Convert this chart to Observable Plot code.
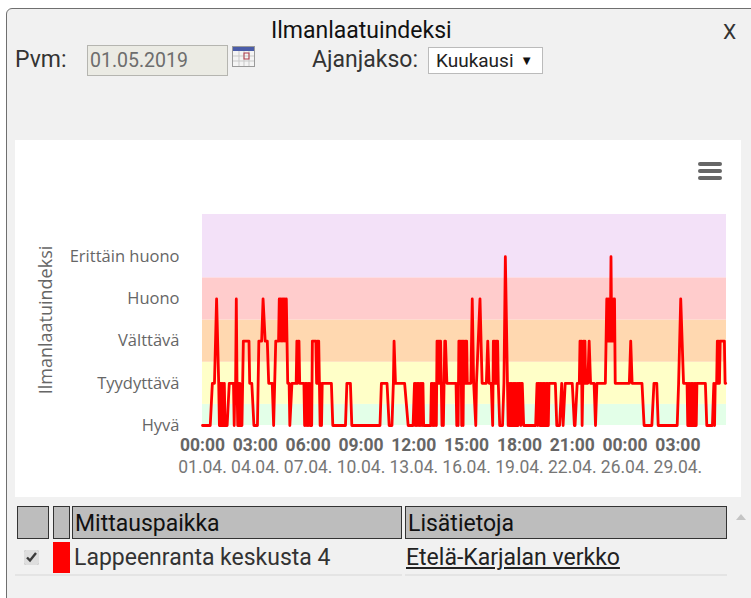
<!DOCTYPE html>
<html><head><meta charset="utf-8">
<script src="https://cdn.jsdelivr.net/npm/d3@7"></script>
<script src="https://cdn.jsdelivr.net/npm/@observablehq/plot@0.6"></script>
<style>
html,body{margin:0;padding:0;background:#fff;width:751px;height:598px;overflow:hidden}
#panel{position:absolute;left:6px;top:8px;width:760px;height:620px;background:#f1f1f1;border:1px solid #6f6f6f;border-radius:6px;box-sizing:border-box}
.t{position:absolute;font-family:Roboto,sans-serif;color:#222;white-space:nowrap;line-height:1}
.head{position:absolute;top:506px;height:33px;background:#bdbdbd;border:1px solid #333;box-sizing:border-box;font:23px/34px Roboto,sans-serif;color:#111;padding-left:2px}
#chart{position:absolute;left:15px;top:140px;width:726px;height:357px;background:#fff}
#chart svg{display:block}
#chart svg [aria-label="y-axis label"] text{font-size:18px}
.bar{position:absolute;left:698px;width:24px;height:4px;border-radius:2px;background:#666}
</style></head><body>
<div id="panel"></div>
<div class="t" style="left:271px;top:19px;font-size:23px;color:#111">Ilmanlaatuindeksi</div>
<div class="t" style="left:723px;top:22px;font-size:21px;color:#333">X</div>
<div class="t" style="left:15px;top:48px;font-size:23px;color:#333">Pvm:</div>
<div class="t" style="left:87px;top:45px;width:141px;height:31px;background:#ebebe4;border:1px solid #b5b5b0;box-sizing:border-box;font-size:19.5px;line-height:30px;padding-left:2px;color:#6d6d6d">01.05.2019</div>
<svg style="position:absolute;left:232px;top:46px" width="24" height="22">
<rect x=".5" y=".5" width="22" height="20" fill="#f4f4f4" stroke="#9a9a9a"/>
<rect x="1" y="1" width="21" height="4" fill="#4a5ca8"/>
<path d="M1 10H22M1 15H22M7 5V20M12 5V20M17 5V20" stroke="#c9c9c9"/>
<rect x="12" y="7" width="5" height="6" fill="none" stroke="#b03a4a"/></svg>
<div class="t" style="left:312px;top:48px;font-size:23px;color:#333">Ajanjakso:</div>
<div class="t" style="left:428px;top:47px;width:115px;height:27px;background:#fff;border:1px solid #bbb;box-sizing:border-box;font-size:19px;line-height:26px;padding-left:7px;color:#222">Kuukausi <span style="font-size:13px;position:relative;top:-2px;margin-left:2px;color:#111">▼</span></div>
<div id="chart"></div>
<div class="bar" style="top:162px"></div><div class="bar" style="top:169px"></div><div class="bar" style="top:176px"></div>
<div class="head" style="left:17px;width:32px"></div>
<div class="head" style="left:53px;width:17px"></div>
<div class="head" style="left:72px;width:330px">Mittauspaikka</div>
<div class="head" style="left:405px;width:322px">Lisätietoja</div>
<input type="checkbox" checked style="position:absolute;left:24px;top:550px;width:15px;height:15px;margin:0;accent-color:#dedede">
<div style="position:absolute;left:53px;top:542px;width:17px;height:31px;background:#f00"></div>
<div class="t" style="left:74px;top:546px;font-size:23px;color:#333">Lappeenranta keskusta 4</div>
<div class="t" style="left:406px;top:546px;font-size:23px;color:#222;text-decoration:underline">Etelä-Karjalan verkko</div>
<div style="position:absolute;left:15px;top:574px;width:387px;height:2px;background:#e4e4e4"></div>
<div style="position:absolute;left:405px;top:574px;width:322px;height:2px;background:#e4e4e4"></div>
<div style="position:absolute;left:736px;top:514px;width:0;height:0;border-left:5px solid transparent;border-right:5px solid transparent;border-bottom:6px solid #c4c4c4"></div>
<script>
const levelValues = [1, 2, 3, 4, 5];
const levelNames = ["Hyvä", "Tyydyttävä", "Välttävä", "Huono", "Erittäin huono"];
const bandFrom = [1, 1.5, 2.5, 3.5, 4.5];
const bandTo = [1.5, 2.5, 3.5, 4.5, 6];
const bandFills = ["#e3ffe8", "#ffffc8", "#ffd8b0", "#ffcccc", "#f3e1f8"];
const tickHours = [0, 75, 150, 225, 300, 375, 450, 525, 600, 675];
const tickTimes = ["00:00","03:00","06:00","09:00","12:00","15:00","18:00","21:00","00:00","03:00"];
const tickDates = ["01.04.","04.04.","07.04.","10.04.","13.04.","16.04.","19.04.","22.04.","26.04.","29.04."];
const hours = [
0,11,14,17,20,23,24,25,26,27,28,29,30,31,32,35,38,44,45,46,47,48,49,50,51,52,53,54,56,58,66,67,70,73,78,80,84,86,89,92,94,99,101,104,108,
109,110,111,112,113,114,115,116,117,118,119,120,121,123,124,127,133,134,135,136,137,138,144,145,146,147,148,149,150,151,152,153,155,156,160,161,162,163,164,165,166,167,168,169,170,183,185,203,205,210,212,
252,254,262,265,269,271,272,274,287,292,299,301,302,303,304,305,306,307,308,309,310,311,312,313,314,
324,325,326,327,328,329,330,331,332,333,334,335,336,337,338,339,340,341,342,343,344,345,347,360,361,362,363,364,365,366,367,368,369,370,371,372,373,374,375,376,381,383,385,388,389,394,397,403,405,407,410,412,413,414,415,416,417,418,419,420,422,426,428,430,433,
434,435,436,437,438,439,440,441,442,443,444,445,446,447,448,449,451,452,453,454,456,473,475,476,477,478,479,480,481,482,483,484,485,486,487,488,489,490,491,492,
501,503,507,510,512,515,525,528,529,532,535,536,537,538,539,540,541,542,543,544,547,549,551,556,558,560,572,574,575,576,577,578,579,580,581,582,583,584,585,586,606,608,610,624,627,638,641,645,647,674,676,679,683,688,
689,690,691,692,693,694,695,696,697,698,699,700,701,702,714,716,724,726,727,728,730,731,732,733,734,735,741,742,743
];
const levels = [
1,1,2,2,4,2,1,2,1,2,1,2,1,2,1,1,2,2,1,2,2,4,2,1,2,1,2,1,1,3,3,2,2,1,1,3,3,4,3,3,2,2,1,3,3,
4,3,4,3,4,3,4,3,4,3,4,3,2,2,1,2,2,3,2,3,3,2,2,1,2,1,2,1,2,1,2,1,1,3,3,3,2,3,2,3,2,1,2,1,2,2,1,1,2,2,1,
1,2,2,1,1,2,3,2,2,1,1,2,1,2,1,2,1,2,1,2,1,2,1,2,1,
1,2,1,2,1,2,1,2,1,3,2,3,2,3,3,2,1,2,1,2,3,3,2,2,1,2,1,3,3,2,3,1,3,1,3,2,3,2,3,2,2,4,2,1,2,4,2,2,3,2,2,1,3,2,3,2,3,2,3,2,1,1,2,5,2,
1,2,1,2,1,2,1,2,1,2,1,2,1,2,1,2,2,1,2,2,1,1,2,1,2,2,1,2,1,2,1,2,1,2,1,2,1,2,1,2,
2,1,1,2,1,2,2,1,1,2,2,3,2,3,1,2,3,2,3,2,2,3,2,2,1,2,2,4,3,4,3,4,3,5,3,4,3,4,4,2,2,3,2,2,1,1,2,2,1,1,2,4,2,2,
1,2,1,2,1,2,1,2,1,2,1,2,1,2,2,1,1,2,1,2,2,3,2,3,2,3,3,2,2
];
const series = hours.map((h, i) => ({hour: h, level: levels[i]}));
const bands = bandFrom.map((from, i) => ({from, to: bandTo[i], fill: bandFills[i]}));
const plot = Plot.plot({
  width: 726, height: 357,
  marginLeft: 187, marginRight: 15, marginTop: 74, marginBottom: 72,
  style: {background: "#fff", fontFamily: "'Open Sans',sans-serif"},
  x: {domain: [0, 744]},
  y: {domain: [1, 6]},
  marks: [
    Plot.rectY(bands, {x1: 0, x2: 744, y1: "from", y2: "to", fill: "fill", inset: 0}),
    Plot.line(series, {x: "hour", y: "level", stroke: "#f00", strokeWidth: 2.8, strokeLinejoin: "round"}),
    Plot.axisY({ticks: levelValues, tickFormat: (d, i) => levelNames[i], tickSize: 0, tickPadding: 23,
      fontSize: 16.5, fill: "#666", label: "Ilmanlaatuindeksi", labelAnchor: "center", labelOffset: 163, labelArrow: "none"}),
    Plot.axisX({ticks: tickHours, tickFormat: (d, i) => tickTimes[i], tickSize: 0, tickPadding: 13,
      fontFamily: "Roboto", fontSize: 17.5, fontWeight: "bold", fill: "#666", label: null}),
    Plot.axisX({ticks: tickHours, tickFormat: (d, i) => tickDates[i], tickSize: 0, tickPadding: 35,
      fontFamily: "Roboto", fontSize: 17.5, fill: "#777", label: null})
  ]
});
document.getElementById("chart").appendChild(plot);
</script>
</body></html>
